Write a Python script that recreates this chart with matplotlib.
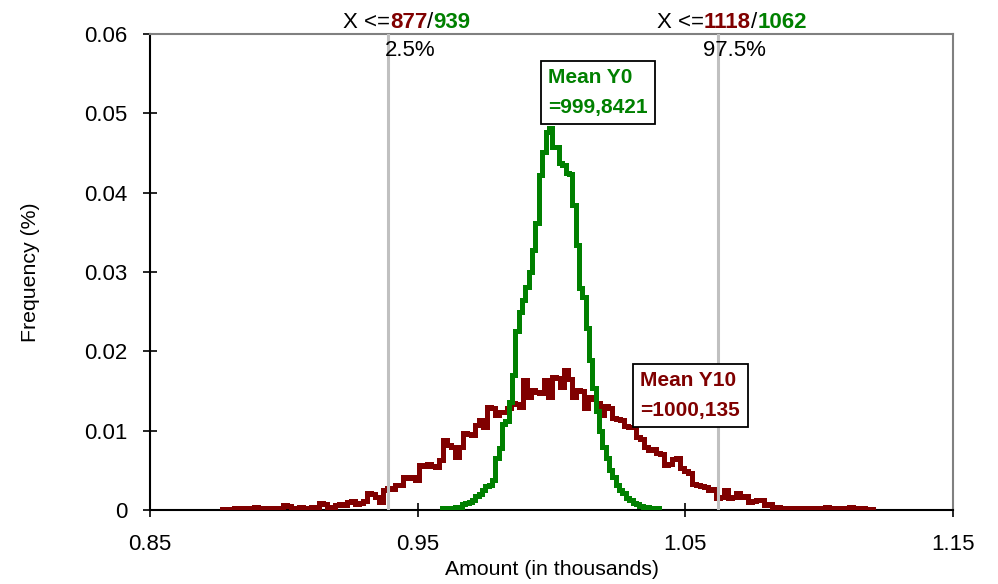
import numpy as np
import matplotlib
matplotlib.use("Agg")
import matplotlib.pyplot as plt
import matplotlib.transforms as mtransforms

plt.rcParams['font.family'] = ['Liberation Sans', 'DejaVu Sans']

# histogram of year 10 (dark red), bins of 0.0015 starting at 0.877
red_start = 0.877
red_width = 0.0015
red_values = [
    0.0001, 0.0001, 0.0001, 0.0002, 0.0001, 0.0002, 0.0002, 0.0002, 0.0004,
    0.0002, 0.0001, 0.0002, 0.0002, 0.0002, 0.0003,
    0.0006, 0.0005,
    0.0003, 0.0003, 0.0004, 0.0003, 0.0002, 0.0004,
    0.0004,
    0.0009, 0.0008,
    0.0003, 0.0004,
    0.0006, 0.0007, 0.0006,
    0.0010, 0.0011,
    0.0008, 0.0009,
    0.0011,
    0.0021, 0.0020,
    0.0017, 0.0010,
    0.0025,
    0.0028, 0.0027,
    0.0032, 0.0031,
    0.0042,
    0.0040, 0.0041,
    0.0038,
    0.0057, 0.0055, 0.0058, 0.0056, 0.0054,
    0.0063, 0.0088, 0.0082, 0.0080, 0.0067,
    0.0080, 0.0097, 0.0096, 0.0094, 0.0107,
    0.0113, 0.0105, 0.0130, 0.0128, 0.0120,
    0.0124, 0.0123, 0.0128, 0.0135, 0.0134,
    0.0130, 0.0164, 0.0142, 0.0151, 0.0149,
    0.0148, 0.0164, 0.0142, 0.0168, 0.0166,
    0.0155, 0.0177, 0.0165, 0.0142, 0.0151,
    0.0150, 0.0128, 0.0142, 0.0140, 0.0135,
    0.0120, 0.0131, 0.0129, 0.0116, 0.0115,
    0.0113, 0.0106, 0.0105, 0.0104, 0.0092,
    0.0090, 0.0080, 0.0076, 0.0077, 0.0072,
    0.0071, 0.0057, 0.0058, 0.0064, 0.0065,
    0.0053, 0.0049, 0.0047, 0.0033, 0.0032,
    0.0030, 0.0029, 0.0025, 0.0026, 0.0015,
    0.0016, 0.0025, 0.0015, 0.0016, 0.0021,
    0.0017, 0.0018, 0.0010, 0.0011, 0.0013,
    0.0012, 0.0006, 0.0007, 0.0004, 0.0004,
    0.0002, 0.0002, 0.0003, 0.0002, 0.0002, 0.0001, 0.0002, 0.0002,
    0.0002, 0.0001, 0.0002, 0.0004, 0.0002, 0.0002, 0.0001, 0.0002,
    0.0002, 0.0004, 0.0002, 0.0001, 0.0002, 0.0001, 0.0001,
]

# histogram of year 0 (green), bins of 0.00125 starting at 0.959
green_start = 0.959
green_width = 0.00125
green_values = [
    0.0002, 0.0002, 0.0003, 0.0003, 0.0004,
    0.0004, 0.0008, 0.0009, 0.0010, 0.0012,
    0.0018, 0.0020, 0.0025, 0.0030, 0.0032,
    0.0038, 0.0066, 0.0078, 0.0109, 0.0112,
    0.0136, 0.0170, 0.0226, 0.0250, 0.0265,
    0.0281, 0.0300, 0.0328, 0.0362, 0.0422,
    0.0451, 0.0477, 0.0482, 0.0458, 0.0457,
    0.0437, 0.0435, 0.0425, 0.0424, 0.0385,
    0.0334, 0.0280, 0.0269, 0.0230, 0.0189,
    0.0154, 0.0125, 0.0100, 0.0080, 0.0065,
    0.0050, 0.0042, 0.0032, 0.0025, 0.0021,
    0.0015, 0.0012, 0.0009, 0.0008, 0.0005,
    0.0004, 0.0004, 0.0003, 0.0003, 0.0002,
]

# delimiters (percentiles) shown as grey lines
cutoff_x = [0.939, 1.062]
cutoff_pct = ["2.5%", "97.5%"]
cutoff_red = ["877", "1118"]
cutoff_green = ["939", "1062"]

mean_y0 = "999,8421"
mean_y10 = "1000,135"

x_ticks = [0.85, 0.95, 1.05, 1.15]
x_tick_labels = ["0.85", "0.95", "1.05", "1.15"]
y_ticks = [0, 0.01, 0.02, 0.03, 0.04, 0.05, 0.06]
y_tick_labels = ["0", "0.01", "0.02", "0.03", "0.04", "0.05", "0.06"]

red = "#800000"
green = "#008000"
grey = "#c0c0c0"

fig = plt.figure(figsize=(9.98, 5.84), dpi=100)
ax = fig.add_axes([0.1503, 0.1267, 0.8047, 0.8151])

red_edges = red_start + red_width * np.arange(len(red_values) + 1)
green_edges = green_start + green_width * np.arange(len(green_values) + 1)

ax.stairs(red_values, red_edges, color=red, linewidth=3.6, zorder=3)
ax.stairs(green_values, green_edges, color=green, linewidth=3.6, zorder=4)

for x in cutoff_x:
    ax.axvline(x, color=grey, linewidth=2.2, zorder=5)

ax.set_xlim(0.85, 1.15)
ax.set_ylim(0, 0.06)
ax.set_xticks(x_ticks)
ax.set_xticklabels(x_tick_labels)
ax.set_yticks(y_ticks)
ax.set_yticklabels(y_tick_labels)
ax.tick_params(direction='inout', length=10, width=1.2, labelsize=16, color='black')
ax.tick_params(axis='x', pad=12)
ax.tick_params(axis='y', pad=11)

ax.spines['left'].set_color('black')
ax.spines['bottom'].set_color('black')
ax.spines['left'].set_linewidth(1.5)
ax.spines['bottom'].set_linewidth(1.5)
ax.spines['top'].set_color('#808080')
ax.spines['right'].set_color('#808080')
ax.spines['top'].set_linewidth(1.5)
ax.spines['right'].set_linewidth(1.5)

ax.set_xlabel("Amount (in thousands)", fontsize=15.3, va='top')
ax.set_ylabel("Frequency (%)", fontsize=15.3, va='bottom')
ax.xaxis.set_label_coords(0.5, -0.106)
ax.yaxis.set_label_coords(-0.137, 0.5)

# percent labels under the top border
trans = mtransforms.blended_transform_factory(ax.transData, ax.transAxes)
pct_x = [0.9378, 1.0566]
for x, txt in zip(pct_x, cutoff_pct):
    ax.text(x, 0.966, txt, transform=trans, fontsize=16, ha='left', va='center', zorder=6)

# "X <=877/939" style labels above the plot, several colours in a row
label_x = [0.9221, 1.0394]
for x, r, g in zip(label_x, cutoff_red, cutoff_green):
    parts = [("X <=", 'black', 'normal'), (r, red, 'bold'), ("/", 'black', 'normal'), (g, green, 'bold')]
    prev = None
    for txt, col, wt in parts:
        if prev is None:
            prev = ax.text(x, 1.003, txt, transform=trans, color=col, fontweight=wt,
                           fontsize=16, ha='left', va='bottom', clip_on=False)
        else:
            prev = ax.annotate(txt, xy=(1, 0), xycoords=prev, color=col, fontweight=wt,
                               fontsize=16, ha='left', va='bottom', annotation_clip=False)

ax.text(0.9988, 0.0557, "Mean Y0\n=" + mean_y0, color=green, fontweight='bold',
        fontsize=15, ha='left', va='top', linespacing=1.72, zorder=7,
        bbox=dict(boxstyle='square,pad=0.36', fc='white', ec='black', lw=1.3))
ax.text(1.0332, 0.0175, "Mean Y10\n=" + mean_y10, color=red, fontweight='bold',
        fontsize=15, ha='left', va='top', linespacing=1.72, zorder=7,
        bbox=dict(boxstyle='square,pad=0.36', fc='white', ec='black', lw=1.3))

plt.savefig("out.png", dpi=100)
